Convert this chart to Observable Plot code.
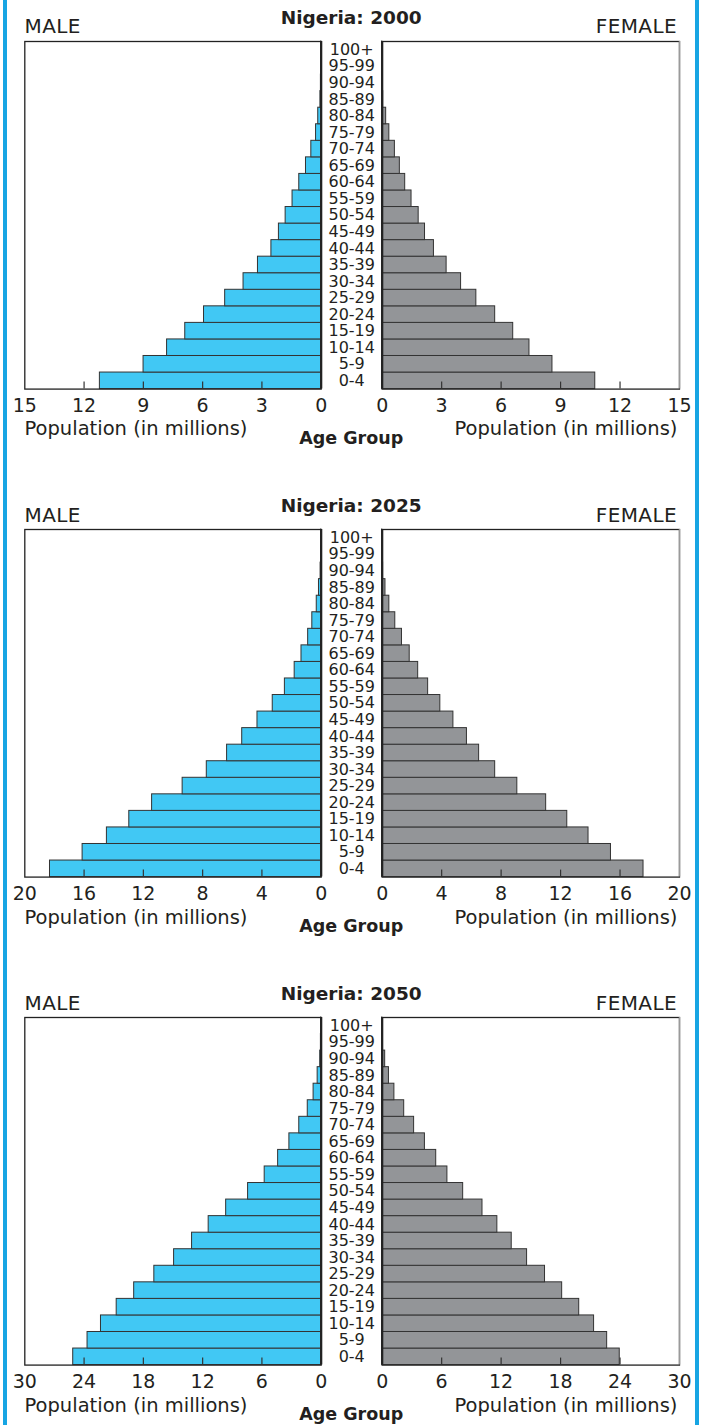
<!DOCTYPE html>
<html>
<head>
<meta charset="utf-8">
<script src="https://cdn.jsdelivr.net/npm/d3@7"></script>
<script src="https://cdn.jsdelivr.net/npm/@observablehq/plot@0.6"></script>
<style>
  html, body { margin: 0; padding: 0; background: #fff; }
  #root { position: relative; width: 704px; height: 1425px; overflow: hidden; background: #fff; font-family: "DejaVu Sans", sans-serif; color: #231f20; }
  .lbl { position: absolute; white-space: nowrap; line-height: 1; }
  .border { position: absolute; top: 0; width: 4px; height: 1425px; background: #17a5e3; }
  svg { position: absolute; }
</style>
</head>
<body>
<div id="root"></div>
<script>
// Age groups, youngest first
const ages = ["0-4","5-9","10-14","15-19","20-24","25-29","30-34","35-39","40-44","45-49","50-54","55-59","60-64","65-69","70-74","75-79","80-84","85-89","90-94","95-99","100+"];

// Population in millions, ordered as ages above
const male2000   = [11.2, 8.99, 7.8, 6.88, 5.93, 4.86, 3.93, 3.2, 2.52, 2.14, 1.8, 1.45, 1.11, 0.77, 0.5, 0.26, 0.15, 0.04, 0.015, 0.004, 0.001];
const female2000 = [10.75, 8.59, 7.43, 6.61, 5.7, 4.75, 3.98, 3.25, 2.61, 2.16, 1.84, 1.48, 1.16, 0.89, 0.64, 0.36, 0.2, 0.05, 0.015, 0.003, 0.001];
const male2025   = [18.3, 16.1, 14.46, 12.95, 11.41, 9.35, 7.72, 6.35, 5.33, 4.3, 3.27, 2.45, 1.79, 1.33, 0.88, 0.6, 0.3, 0.15, 0.04, 0.01, 0.002];
const female2025 = [17.58, 15.39, 13.88, 12.45, 11.03, 9.09, 7.6, 6.52, 5.7, 4.79, 3.91, 3.09, 2.42, 1.85, 1.33, 0.88, 0.48, 0.22, 0.06, 0.015, 0.002];
const male2050   = [25.1, 23.65, 22.29, 20.7, 18.93, 16.89, 14.89, 13.07, 11.39, 9.62, 7.4, 5.72, 4.36, 3.22, 2.22, 1.36, 0.77, 0.36, 0.1, 0.03, 0.005];
const female2050 = [23.97, 22.7, 21.38, 19.88, 18.16, 16.43, 14.62, 13.07, 11.62, 10.12, 8.17, 6.58, 5.45, 4.31, 3.22, 2.22, 1.23, 0.68, 0.3, 0.08, 0.01];

const years = ["2000", "2025", "2050"];
const maleSeries = [male2000, male2025, male2050];
const femaleSeries = [female2000, female2025, female2050];
const axisMax = [15, 20, 30];
const tickLabels = [[0, 3, 6, 9, 12, 15], [0, 4, 8, 12, 16, 20], [0, 6, 12, 18, 24, 30]];

const titlePrefix = "Nigeria: ";
const maleLabel = "MALE";
const femaleLabel = "FEMALE";
const xLabel = "Population (in millions)";
const ageLabel = "Age Group";

const maleColor = "#41c8f4";
const femaleColor = "#939598";
const ink = "#231f20";

const root = document.getElementById("root");
function addLabel(text, css) {
  const d = document.createElement("div");
  d.className = "lbl";
  d.textContent = text;
  Object.assign(d.style, css);
  root.appendChild(d);
  return d;
}
["3px", "695px"].forEach(l => {
  const b = document.createElement("div");
  b.className = "border";
  b.style.left = l;
  root.appendChild(b);
});

const pitch = 488.3;
const frameTop0 = 40.7, frameBottom0 = 388.3;
const frameH = frameBottom0 - frameTop0;
const mTop = 2, mBottom = 34;
const band = frameH / ages.length;
const agesTopDown = ages.slice().reverse();

years.forEach((yr, p) => {
  const off = p * pitch;
  addLabel(titlePrefix + yr, {left: "351.2px", top: (8.6 + off) + "px", transform: "translateX(-50%)", fontSize: "18.5px", fontWeight: "bold"});
  addLabel(maleLabel, {left: "24.5px", top: (16.4 + off) + "px", fontSize: "20px", letterSpacing: "0.4px"});
  addLabel(femaleLabel, {right: "27px", top: (16.4 + off) + "px", fontSize: "20px", letterSpacing: "0.4px"});
  addLabel(xLabel, {left: "24.5px", top: (419.3 + off) + "px", fontSize: "19.5px"});
  addLabel(xLabel, {right: "26.6px", top: (419.3 + off) + "px", fontSize: "19.5px"});
  addLabel(ageLabel, {left: "351.2px", top: (429.6 + off) + "px", transform: "translateX(-50%)", fontSize: "17.5px", fontWeight: "bold"});

  const sides = [
    {male: true, values: maleSeries[p], left: 0, width: 352, ml: 24.3, mr: 31.3, fill: maleColor},
    {male: false, values: femaleSeries[p], left: 352, width: 352, ml: 29.7, mr: 25, fill: femaleColor}
  ];
  sides.forEach(s => {
    const data = ages.map((a, i) => ({age: a, value: s.values[i]}));
    const ticks = tickLabels[p];
    const marks = [
      Plot.barX(data, {x: "value", y: "age", fill: s.fill, stroke: "#333", strokeWidth: 1}),
      Plot.frame({stroke: "#222", strokeWidth: 1.3}),
    ];
    if (!s.male) marks.push(Plot.ruleX([axisMax[p]], {stroke: "#9a9a9a", strokeWidth: 1.4}));
    marks.push(
      Plot.ruleX([0], {stroke: "#222", strokeWidth: 2.2}),
      Plot.tickX(ticks.filter(t => t > 0 && t < axisMax[p]), {x: d => d, y: () => "0-4", insetTop: band - 7, stroke: "#333", strokeWidth: 1.2}),
      Plot.text(ticks, {x: d => d, text: d => String(d), frameAnchor: "bottom", lineAnchor: "top", dy: 9, fontSize: 19, fill: ink})
    );
    if (s.male) {
      marks.push(Plot.text(ages, {y: d => d, text: d => d, frameAnchor: "right", dx: 30.5, textAnchor: "middle", fontSize: 16, fill: ink}));
    }
    const svg = Plot.plot({
      width: s.width,
      height: mTop + frameH + mBottom,
      marginTop: mTop,
      marginBottom: mBottom,
      marginLeft: s.ml,
      marginRight: s.mr,
      style: {background: "transparent", overflow: "visible", fontFamily: "DejaVu Sans", fontSize: "19px", color: ink},
      x: {domain: [0, axisMax[p]], reverse: s.male, axis: null},
      y: {domain: agesTopDown, padding: 0, round: false, axis: null},
      marks
    });
    svg.style.position = "absolute";
    svg.style.left = s.left + "px";
    svg.style.top = (frameTop0 + off - mTop) + "px";
    svg.style.maxWidth = "none";
    root.appendChild(svg);
  });
});
</script>
</body>
</html>
